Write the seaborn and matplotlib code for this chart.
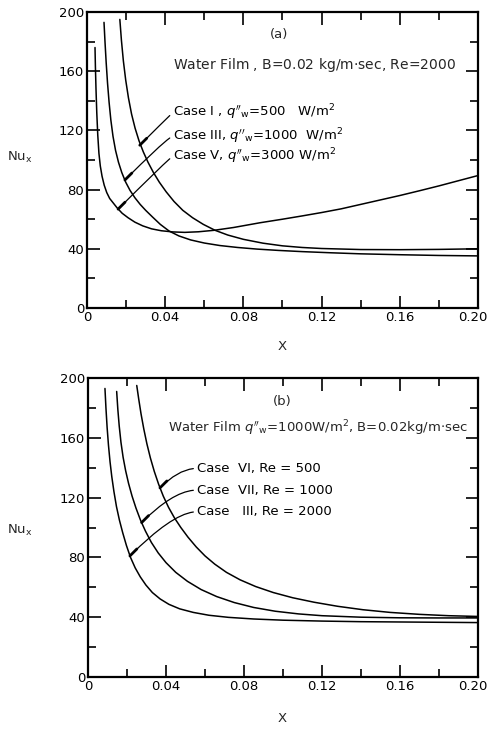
import matplotlib
matplotlib.use("Agg")
import matplotlib.pyplot as plt
import matplotlib.transforms as mtransforms
import numpy as np
import pandas as pd
import seaborn as sns

sns.set_theme(style="ticks")
plt.rcParams["font.family"] = ["DejaVu Sans"]
plt.rcParams["mathtext.fontset"] = "dejavusans"

# ---------- (a) water film, B = 0.02 kg/m-sec, Re = 2000 ----------
a_case1_x = [0.0168, 0.0176, 0.0186, 0.0198, 0.0212, 0.0228, 0.0246, 0.0266, 0.0288,
             0.0312, 0.034, 0.037, 0.0405, 0.0445, 0.049, 0.054, 0.0595, 0.0655,
             0.072, 0.08, 0.09, 0.10, 0.11, 0.12, 0.14, 0.16, 0.18, 0.20]
a_case1_nu = [195, 181, 167, 154, 142, 131, 121.5, 113, 105.5,
              98.5, 91.5, 85, 78.5, 72, 66, 61, 56.5, 52.5,
              49.3, 46.4, 43.8, 42, 40.9, 40.2, 39.5, 39.4, 39.6, 40]

a_case3_x = [0.0087, 0.0092, 0.0098, 0.0105, 0.0113, 0.0122, 0.0133, 0.0146, 0.0161,
             0.0178, 0.0198, 0.022, 0.0245, 0.0272, 0.030, 0.0335, 0.0375, 0.042,
             0.047, 0.053, 0.060, 0.068, 0.077, 0.087, 0.098, 0.11, 0.125, 0.14,
             0.16, 0.18, 0.20]
a_case3_nu = [193, 180, 166, 152, 139, 127, 116, 106.5, 98.5,
              91.5, 85, 79.5, 74.5, 70, 66, 61.5, 56.5, 52,
              48.7, 46, 43.9, 42.2, 40.9, 39.8, 38.9, 38.1, 37.3, 36.6,
              36, 35.5, 35.2]

a_case5_x = [0.0041, 0.0043, 0.0046, 0.005, 0.0055, 0.0061, 0.0068, 0.0077, 0.0088,
             0.0101, 0.0116, 0.0134, 0.0155, 0.018, 0.021, 0.0245, 0.0285, 0.033,
             0.038, 0.044, 0.05, 0.057, 0.065, 0.075, 0.0885, 0.10, 0.11, 0.12,
             0.13, 0.14, 0.15, 0.16, 0.17, 0.18, 0.19, 0.20]
a_case5_nu = [176, 163, 148, 132, 117, 104.5, 96, 89, 83,
              78, 74, 71, 67.5, 64, 61, 58, 55.5, 53.5,
              52.2, 51.4, 51.1, 51.5, 52.5, 54.4, 57.6, 60, 62.2, 64.5,
              67, 70, 73, 76, 79.2, 82.5, 86, 89.5]

# ---------- (b) water film, q''w = 1000 W/m2, B = 0.02 kg/m-sec ----------
b_case6_x = [0.025, 0.026, 0.0272, 0.0286, 0.0302, 0.032, 0.034, 0.0362, 0.0386,
             0.0413, 0.0443, 0.0476, 0.0513, 0.0555, 0.060, 0.065, 0.071, 0.078,
             0.086, 0.095, 0.105, 0.116, 0.128, 0.141, 0.155, 0.17, 0.185, 0.20]
b_case6_nu = [195, 186, 176, 166, 156, 146.5, 137.5, 129, 121,
              113.5, 106.5, 100, 93.5, 87, 81, 75.5, 70, 65,
              60.5, 56.5, 53, 50, 47.3, 45, 43.2, 41.9, 41, 40.5]

b_case7_x = [0.0147, 0.0153, 0.016, 0.0169, 0.018, 0.0193, 0.0208, 0.0226, 0.0246,
             0.0269, 0.0295, 0.0325, 0.036, 0.04, 0.045, 0.051, 0.058, 0.066,
             0.075, 0.085, 0.096, 0.108, 0.12, 0.14, 0.16, 0.18, 0.20]
b_case7_nu = [191, 179, 168, 157, 147, 138, 129.5, 121, 113,
              105, 97.5, 90, 83, 76.5, 70, 64, 58.5, 53.8,
              49.8, 46.5, 44, 42.2, 41, 40, 39.6, 39.5, 39.5]

b_case3_x = [0.0087, 0.0092, 0.0098, 0.0105, 0.0113, 0.0122, 0.0133, 0.0146, 0.0161,
             0.0178, 0.0197, 0.0218, 0.0242, 0.0268, 0.0297, 0.033, 0.037, 0.0415,
             0.047, 0.054, 0.062, 0.072, 0.085, 0.10, 0.12, 0.14, 0.16, 0.18, 0.20]
b_case3_nu = [193, 180, 167, 155, 144, 134, 124, 114, 105,
              96.5, 88, 80, 73, 67, 61.5, 56.5, 52.2, 48.6,
              45.6, 43.2, 41.3, 39.9, 38.8, 38, 37.4, 37, 36.8, 36.6, 36.4]

x_ticks = [0, 0.04, 0.08, 0.12, 0.16, 0.20]
x_tick_labels = ["0", "0.04", "0.08", "0.12", "0.16", "0.20"]
y_ticks = [0, 40, 80, 120, 160, 200]
y_tick_labels = ["0", "40", "80", "120", "160", "200"]

q = r"$q''_{\mathrm{w}}$"
a_labels = [f"Case I , {q}=500   W/m$^2$",
            f"Case III, {q}=1000  W/m$^2$",
            f"Case V, {q}=3000 W/m$^2$"]
b_labels = ["Case  VI, Re = 500",
            "Case  VII, Re = 1000",
            "Case   III, Re = 2000"]


def frame(x, nu, name):
    return pd.DataFrame({"X": x, "Nu": nu, "case": name})


data_a = pd.concat([frame(a_case1_x, a_case1_nu, "I"),
                    frame(a_case3_x, a_case3_nu, "III"),
                    frame(a_case5_x, a_case5_nu, "V")])
data_b = pd.concat([frame(b_case6_x, b_case6_nu, "VI"),
                    frame(b_case7_x, b_case7_nu, "VII"),
                    frame(b_case3_x, b_case3_nu, "III")])

W, H = 489, 729
fig = plt.figure(figsize=(W / 100, H / 100), dpi=100)
ax_a = fig.add_axes([87 / W, 1 - 308 / H, 391 / W, 296 / H])
ax_b = fig.add_axes([88 / W, 1 - 677 / H, 390 / W, 299 / H])

FS = 9.5


def style_axes(ax):
    ax.set_xlim(0, 0.2)
    ax.set_ylim(0, 200)
    ax.set_xticks(x_ticks)
    ax.set_xticklabels(x_tick_labels, fontsize=FS)
    ax.set_xticks(np.arange(0.02, 0.2, 0.04), minor=True)
    ax.set_yticks(y_ticks)
    ax.set_yticklabels(y_tick_labels, fontsize=FS)
    ax.set_yticks(np.arange(20, 200, 40), minor=True)
    ax.tick_params(which="both", direction="in", top=True, right=True,
                   width=1.2, color="black", labelcolor="black")
    ax.tick_params(which="major", length=9, pad=2)
    ax.tick_params(which="minor", length=6)
    for s in ax.spines.values():
        s.set_linewidth(1.6)
        s.set_color("black")
    ax.set_xlabel("")
    ax.set_ylabel("")
    ax.grid(False)
    ax.set_facecolor("white")
    # keep the last x label inside the figure edge
    last = ax.get_xticklabels()[-1]
    last.set_transform(last.get_transform() +
                       mtransforms.ScaledTranslation(-5 / 100, 0, fig.dpi_scale_trans))


for ax, df in ((ax_a, data_a), (ax_b, data_b)):
    sns.lineplot(data=df, x="X", y="Nu", units="case", estimator=None,
                 sort=False, color="black", linewidth=1.1, ax=ax, legend=False)
    style_axes(ax)


def leader(ax, text, xy, xytext):
    ax.annotate(text, xy=xy, xytext=xytext, ha="left", va="center",
                fontsize=FS, color="black",
                arrowprops=dict(arrowstyle="-", color="black", lw=0.9,
                                shrinkA=0, shrinkB=0, relpos=(0, 0.5),
                                connectionstyle="angle3,angleA=0,angleB=45"))
    # short heavy stroke where the leader meets the curve
    ax.annotate("", xy=xy, xytext=(5, 5), textcoords="offset points",
                arrowprops=dict(arrowstyle="-", color="black", lw=2.0,
                                shrinkA=0, shrinkB=0))


# panel (a) annotations
ax_a.text(0.098, 185, "(a)", ha="center", va="center", fontsize=FS)
ax_a.text(0.1165, 164, "Water Film , B=0.02 kg/m$\\cdot$sec, Re=2000",
          ha="center", va="center", fontsize=10)
leader(ax_a, a_labels[0], (0.027, 110), (0.044, 132))
leader(ax_a, a_labels[1], (0.0194, 86.5), (0.044, 116))
leader(ax_a, a_labels[2], (0.0159, 66.8), (0.044, 102.5))

# panel (b) annotations
ax_b.text(0.0994, 184, "(b)", ha="center", va="center", fontsize=FS)
ax_b.text(0.1177, 166.5, f"Water Film {q}=1000W/m$^2$, B=0.02kg/m$\\cdot$sec",
          ha="center", va="center", fontsize=FS)
leader(ax_b, b_labels[0], (0.0369, 126.5), (0.0557, 139.5))
leader(ax_b, b_labels[1], (0.0275, 103.3), (0.0557, 125))
leader(ax_b, b_labels[2], (0.0215, 81), (0.0557, 110.5))

# axis titles
for ypx in (157, 530):
    fig.text(20 / W, 1 - ypx / H, r"Nu$_\mathrm{x}$", ha="center", va="center",
             fontsize=FS)
fig.text(282 / W, 1 - 346 / H, "X", ha="center", va="center", fontsize=FS)
fig.text(282 / W, 1 - 719 / H, "X", ha="center", va="center", fontsize=FS)

fig.patch.set_facecolor("white")
fig.savefig("out.png", dpi=100, facecolor="white")
